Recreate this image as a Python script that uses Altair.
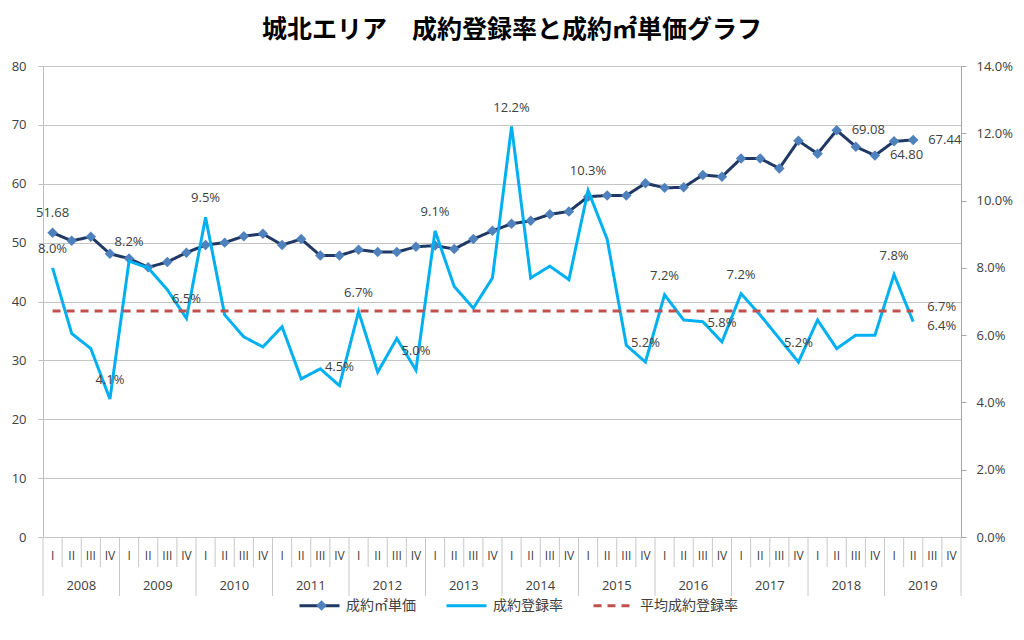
import altair as alt
import pandas as pd

# ---------------- data ----------------
years = [str(y) for y in range(2008, 2020)]
quarter_names = ["I", "II", "III", "IV"]

# 成約㎡単価 (万円) 2008 I .. 2019 II
price = [51.68, 50.3, 51.0, 48.1, 47.3, 45.8, 46.7, 48.3, 49.6, 50.0,
         51.1, 51.5, 49.6, 50.6, 47.8, 47.8, 48.8, 48.4, 48.4, 49.3,
         49.5, 48.9, 50.6, 52.0, 53.2, 53.7, 54.8, 55.3, 57.8, 58.0,
         58.0, 60.1, 59.3, 59.4, 61.5, 61.2, 64.3, 64.3, 62.6, 67.3,
         65.1, 69.08, 66.3, 64.80, 67.2, 67.44]

# 成約登録率 (%) 2008 I .. 2019 II
rate = [8.0, 6.05, 5.6, 4.1, 8.2, 8.0, 7.35, 6.5, 9.5, 6.6,
        5.95, 5.65, 6.25, 4.7, 5.0, 4.5, 6.7, 4.9, 5.9, 4.96,
        9.1, 7.45, 6.8, 7.7, 12.2, 7.7, 8.05, 7.65, 10.3, 8.85,
        5.7, 5.2, 7.2, 6.45, 6.4, 5.8, 7.23, 6.6, 5.9, 5.2,
        6.45, 5.6, 6.0, 6.0, 7.8, 6.4]

avg_rate = 6.72  # 平均成約登録率 (%)

series_names = ["成約㎡単価", "成約登録率", "平均成約登録率"]

# which points carry data labels
price_label_above = [0]
price_label_right = [41, 43, 45]
rate_label_above = [0, 3, 4, 7, 8, 15, 16, 19, 20, 24, 28, 31, 32, 35, 36, 39, 44]
rate_label_right = [45]

# ---------------- tables ----------------
n = len(price)
price_df = pd.DataFrame({"x": [i + 0.5 for i in range(n)], "price": price,
                         "series": series_names[0], "idx": list(range(n))})
rate_df = pd.DataFrame({"x": [i + 0.5 for i in range(n)], "rate": [r / 100 for r in rate],
                        "series": series_names[1], "idx": list(range(n))})
avg_df = pd.DataFrame({"x": [0.5, n - 0.5], "rate": [avg_rate / 100] * 2,
                       "series": series_names[2]})
avg_label_df = avg_df.tail(1)

nq = len(years) * 4
q_df = pd.DataFrame({"x": [i + 0.5 for i in range(nq)],
                     "q": [quarter_names[i % 4] for i in range(nq)]})
y_df = pd.DataFrame({"x": [i * 4 + 2 for i in range(len(years))], "year": years})
sepq_df = pd.DataFrame({"b": [b for b in range(nq + 1) if b % 4]})
sepy_df = pd.DataFrame({"b": [b for b in range(0, nq + 1, 4)]})

# ---------------- styling ----------------
W, H = 918, 471
NUM_FONT = "Open Sans"
JP_FONT = "Noto Sans CJK JP"
TXT = "#404040"
GRID = "#C4C4C4"

xs = alt.Scale(domain=[0, nq], nice=False, zero=False)
X = alt.X("x:Q", scale=xs, axis=None)

color_scale = alt.Scale(domain=series_names, range=["#203864", "#00B0F0", "#C0504D"])
dash_scale = alt.Scale(domain=series_names, range=[[1, 0], [1, 0], [8, 6]])
legend = alt.Legend(title=None, orient="none", legendX=255, legendY=518,
                    direction="horizontal", symbolType="stroke", symbolSize=1600,
                    symbolStrokeWidth=3, labelFont=JP_FONT, labelFontSize=14,
                    labelColor=TXT, labelOffset=5, columnPadding=24)
COLOR = alt.Color("series:N", scale=color_scale, legend=legend)
DASH = alt.StrokeDash("series:N", scale=dash_scale, legend=legend)

# diamond marker shown on the first legend entry
SHAPE = alt.Shape("series:N", scale=alt.Scale(domain=[series_names[0]], range=["diamond"]),
                  legend=alt.Legend(title=None, orient="none", legendX=273, legendY=534,
                                    symbolSize=110, symbolFillColor="#4F81BD",
                                    symbolStrokeColor="#4F81BD", symbolStrokeWidth=0,
                                    symbolOffset=0, labelExpr="''", labelFontSize=1))

yl_scale = alt.Scale(domain=[0, 80], nice=False, zero=True)
yr_scale = alt.Scale(domain=[0, 0.14], nice=False, zero=True)

left_axis = alt.Axis(values=list(range(0, 81, 10)), grid=True, gridColor=GRID,
                     domainColor="#BFBFBF", tickColor="#BFBFBF", tickSize=5,
                     labelPadding=12, labelFont=NUM_FONT, labelFontSize=13,
                     labelColor=TXT, title=None)
right_axis = alt.Axis(orient="right", values=[i / 100 for i in range(0, 15, 2)],
                      format=".1%", grid=False, domainColor="#A6A6A6",
                      tickColor="#A6A6A6", tickSize=5, labelPadding=10,
                      labelFont=NUM_FONT, labelFontSize=13, labelColor=TXT, title=None)

YL = alt.Y("price:Q", scale=yl_scale, axis=left_axis)
YR = alt.Y("rate:Q", scale=yr_scale, axis=right_axis)

# ---------------- left (price) group ----------------
price_line = alt.Chart(price_df).mark_line(strokeWidth=3).encode(
    x=X, y=YL, color=COLOR, strokeDash=DASH)
price_pts = alt.Chart(price_df).mark_point(
    filled=True, size=110, color="#4F81BD", opacity=1).encode(
    x=X, y=YL, shape=SHAPE)
price_lab_above = alt.Chart(price_df).transform_filter(
    alt.FieldOneOfPredicate(field="idx", oneOf=price_label_above)
).mark_text(font=NUM_FONT, fontSize=13, color=TXT, dy=-20, baseline="middle",
            align="center").encode(x=X, y=YL, text=alt.Text("price:Q", format=".2f"))
price_lab_right = alt.Chart(price_df).transform_filter(
    alt.FieldOneOfPredicate(field="idx", oneOf=price_label_right)
).mark_text(font=NUM_FONT, fontSize=13, color=TXT, dx=15, baseline="middle",
            align="left").encode(x=X, y=YL, text=alt.Text("price:Q", format=".2f"))

sep_q = alt.Chart(sepq_df).mark_rule(color="#C8C8C8", strokeWidth=1).encode(
    x=alt.X("b:Q", scale=xs, axis=None), y=alt.value(H), y2=alt.value(H + 30))
sep_y = alt.Chart(sepy_df).mark_rule(color="#C8C8C8", strokeWidth=1).encode(
    x=alt.X("b:Q", scale=xs, axis=None), y=alt.value(H), y2=alt.value(H + 59))
q_text = alt.Chart(q_df).mark_text(font=NUM_FONT, fontSize=12, color=TXT,
                                   baseline="middle").encode(
    x=X, y=alt.value(H + 19), text="q:N")
y_text = alt.Chart(y_df).mark_text(font=NUM_FONT, fontSize=13, color=TXT,
                                   baseline="middle").encode(
    x=X, y=alt.value(H + 48.5), text="year:N")

left = alt.layer(price_line, price_pts, price_lab_above, price_lab_right,
                 sep_q, sep_y, q_text, y_text)

# ---------------- right (rate) group ----------------
rate_line = alt.Chart(rate_df).mark_line(strokeWidth=3).encode(
    x=X, y=YR, color=COLOR, strokeDash=DASH)
avg_line = alt.Chart(avg_df).mark_line(strokeWidth=3).encode(
    x=X, y=YR, color=COLOR, strokeDash=DASH)
rate_lab_above = alt.Chart(rate_df).transform_filter(
    alt.FieldOneOfPredicate(field="idx", oneOf=rate_label_above)
).mark_text(font=NUM_FONT, fontSize=13, color=TXT, dy=-19, baseline="middle",
            align="center").encode(x=X, y=YR, text=alt.Text("rate:Q", format=".1%"))
rate_lab_right = alt.Chart(rate_df).transform_filter(
    alt.FieldOneOfPredicate(field="idx", oneOf=rate_label_right)
).mark_text(font=NUM_FONT, fontSize=13, color=TXT, dx=14, dy=4, baseline="middle",
            align="left").encode(x=X, y=YR, text=alt.Text("rate:Q", format=".1%"))
avg_lab = alt.Chart(avg_label_df).mark_text(
    font=NUM_FONT, fontSize=13, color=TXT, dx=14, dy=-4, baseline="middle",
    align="left").encode(x=X, y=YR, text=alt.Text("rate:Q", format=".1%"))

right = alt.layer(rate_line, avg_line, rate_lab_above, rate_lab_right, avg_lab)

chart = alt.layer(left, right).resolve_scale(y="independent").properties(
    width=W, height=H,
    title=alt.TitleParams("城北エリア　成約登録率と成約㎡単価グラフ", font=JP_FONT,
                          fontSize=25, fontWeight="bold", color="black",
                          anchor="middle", dx=10, offset=17, frame="group"),
    autosize=alt.AutoSizeParams(type="none"),
    padding={"left": 35, "top": 58, "right": 55, "bottom": 90},
).configure_view(stroke=None).configure(background="white")

chart.save("out.html", embed_options={"renderer": "svg", "actions": False})
